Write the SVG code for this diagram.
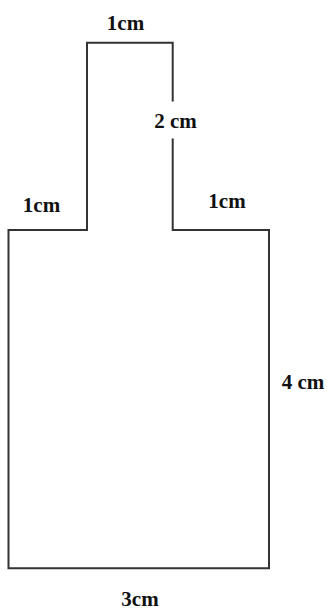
<svg xmlns="http://www.w3.org/2000/svg" width="328" height="612" viewBox="0 0 328 612">
<style>
.shape{fill:none;stroke:#333;stroke-width:2;stroke-linejoin:miter}
.lbl{font-family:"Liberation Serif","Times New Roman",serif;font-weight:bold;font-size:21px;fill:#111;text-anchor:middle}
</style>
<rect width="328" height="612" fill="#fff"/>
<g id="shape">
<path class="shape" d="M172.7,101.5 V42.7 H87 V230 H8.5 V568.3 H269 V230 H172.7 V138.5"/>
</g>
<g id="labels">
<text class="lbl" x="125.5" y="29.5">1cm</text>
<text class="lbl" x="175.5" y="128">2 cm</text>
<text class="lbl" x="41.5" y="211.5">1cm</text>
<text class="lbl" x="227" y="208">1cm</text>
<text class="lbl" x="303" y="389">4 cm</text>
<text class="lbl" x="140" y="606">3cm</text>
</g>
</svg>
